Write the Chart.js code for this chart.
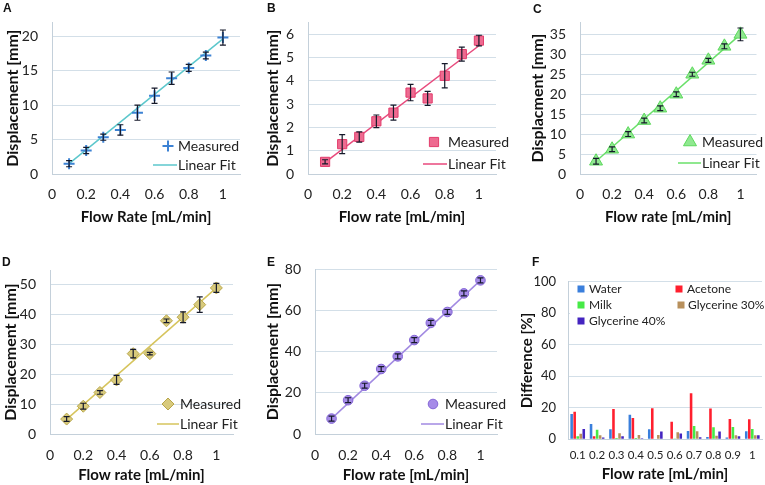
<!DOCTYPE html>
<html>
<head>
<meta charset="utf-8">
<script src="https://cdn.jsdelivr.net/npm/chart.js@4/dist/chart.umd.min.js"></script>
<style>
html,body{margin:0;padding:0;background:#fff;}
#wrap{position:relative;width:765px;height:485px;overflow:hidden;background:#fff;}
canvas{position:absolute;}
.lbl{position:absolute;font:bold 12px "Liberation Sans",Arial,sans-serif;color:#111;}
</style>
</head>
<body>
<div id="wrap">
  <canvas id="cA" width="250" height="230" style="left:0;top:0"></canvas>
  <canvas id="cB" width="255" height="230" style="left:255px;top:0"></canvas>
  <canvas id="cC" width="255" height="230" style="left:510px;top:0"></canvas>
  <canvas id="cD" width="250" height="245" style="left:0;top:240px"></canvas>
  <canvas id="cE" width="255" height="245" style="left:255px;top:240px"></canvas>
  <canvas id="cF" width="255" height="245" style="left:510px;top:240px"></canvas>
  <div class="lbl" style="left:3px;top:1px">A</div>
  <div class="lbl" style="left:267px;top:1px">B</div>
  <div class="lbl" style="left:533px;top:2px">C</div>
  <div class="lbl" style="left:2px;top:255px">D</div>
  <div class="lbl" style="left:267px;top:255px">E</div>
  <div class="lbl" style="left:532px;top:255px">F</div>
</div>
<script>
// ---------- DATA ----------
const flowRate = [0.1, 0.2, 0.3, 0.4, 0.5, 0.6, 0.7, 0.8, 0.9, 1.0];
const fitX = [0.1, 1.0];

const dispA = [1.5, 3.4, 5.35, 6.4, 8.9, 11.35, 13.9, 15.4, 17.2, 19.8];
const errA  = [0.45, 0.45, 0.45, 0.75, 1.1, 1.1, 0.9, 0.5, 0.5, 1.1];
const fitA  = [1.5, 19.6];

const dispB = [0.52, 1.28, 1.59, 2.26, 2.63, 3.49, 3.24, 4.21, 5.14, 5.72];
const errB  = [0.09, 0.41, 0.22, 0.27, 0.32, 0.35, 0.3, 0.52, 0.3, 0.23];
const fitB  = [0.5, 5.5];

const dispC = [3.2, 6.2, 10.0, 13.4, 16.5, 20.0, 25.0, 28.5, 32.0, 35.0];
const errC  = [0.7, 0.6, 0.6, 0.6, 0.6, 0.6, 0.5, 0.5, 0.6, 1.6];
const fitC  = [3.2, 35.0];

const dispD = [5.1, 9.4, 14.0, 18.2, 27.0, 27.0, 38.0, 39.2, 43.4, 49.0];
const errD  = [0.8, 1.0, 0.6, 1.5, 1.4, 0.4, 0.6, 1.8, 2.6, 1.5];
const fitD  = [5.0, 49.0];

const dispE = [7.6, 16.5, 23.5, 31.6, 37.7, 45.6, 53.9, 59.2, 68.2, 74.5];
const errE  = [1.2, 1.2, 1.2, 1.2, 1.2, 1.2, 1.2, 1.2, 1.2, 1.2];
const fitE  = [7.6, 74.5];

const flowLabels = ['0.1','0.2','0.3','0.4','0.5','0.6','0.7','0.8','0.9','1'];
const diffWater  = [16.0, 9.7, 6.3, 15.6, 6.3, 0.0, 5.3, 1.4, 1.2, 5.1];
const diffAcetone= [17.5, 2.0, 19.2, 13.5, 19.7, 11.2, 29.2, 19.5, 12.9, 12.7];
const diffMilk   = [2.0, 6.0, 0.8, 0.8, 0.4, 0.2, 8.5, 7.6, 7.8, 6.6];
const diffGly30  = [3.5, 2.5, 3.8, 2.7, 2.7, 4.4, 5.1, 2.3, 2.5, 2.5];
const diffGly40  = [6.5, 1.2, 1.9, 0.6, 5.0, 3.7, 1.3, 4.9, 1.9, 2.5];

// ---------- STYLE ----------
const FONT = 'Lato, "Open Sans", sans-serif';
const GRID = '#d3dfe8';
const AXIS = '#c4d0da';
const TXT = '#222';

const errPlugin = {
  id: 'errBars',
  afterDatasetsDraw(chart, args, opts) {
    if (!opts || !opts.errors) return;
    const ctx = chart.ctx, xs = chart.scales.x, ys = chart.scales.y;
    const ds = chart.data.datasets[0].data;
    ctx.save();
    ctx.strokeStyle = opts.color || '#222';
    ctx.lineWidth = 1.2;
    ds.forEach((p, i) => {
      const e = opts.errors[i];
      const px = xs.getPixelForValue(p.x);
      const y1 = ys.getPixelForValue(p.y + e), y2 = ys.getPixelForValue(p.y - e);
      const c = opts.cap || 3;
      ctx.beginPath();
      ctx.moveTo(px, y1); ctx.lineTo(px, y2);
      ctx.moveTo(px - c, y1); ctx.lineTo(px + c, y1);
      ctx.moveTo(px - c, y2); ctx.lineTo(px + c, y2);
      ctx.stroke();
    });
    ctx.restore();
  }
};

const legPlugin = {
  id: 'customLeg',
  afterDraw(chart, args, opts) {
    if (!opts || !opts.items) return;
    const ctx = chart.ctx;
    ctx.save();
    if (opts.box) {
      ctx.fillStyle = '#fff';
      ctx.fillRect(opts.box[0], opts.box[1], opts.box[2], opts.box[3]);
    }
    ctx.font = opts.font;
    ctx.fillStyle = TXT;
    ctx.textBaseline = 'middle';
    opts.items.forEach(it => {
      if (it.kind === 'point') {
        const ds = chart.data.datasets[it.ds];
        ctx.save();
        ctx.fillStyle = ds.pointBackgroundColor;
        ctx.strokeStyle = ds.pointBorderColor;
        ctx.lineWidth = ds.pointBorderWidth;
        Chart.helpers.drawPoint(ctx, {pointStyle: ds.pointStyle, radius: ds.pointRadius, rotation: 0, borderWidth: ds.pointBorderWidth}, it.mx, it.y);
        ctx.restore();
      } else if (it.kind === 'line') {
        const ds = chart.data.datasets[it.ds];
        ctx.save();
        ctx.strokeStyle = ds.borderColor; ctx.lineWidth = ds.borderWidth;
        ctx.beginPath(); ctx.moveTo(it.l1, it.y); ctx.lineTo(it.l2, it.y); ctx.stroke();
        ctx.restore();
      } else if (it.kind === 'box') {
        ctx.save();
        ctx.fillStyle = it.color;
        ctx.fillRect(it.mx - 3.5, it.y - 3.5, 7, 7);
        ctx.restore();
      }
      ctx.fillStyle = TXT;
      ctx.fillText(it.text, it.tx, it.y);
    });
    ctx.restore();
  }
};

function pts(ys) { return flowRate.map((x, i) => ({x: x, y: ys[i]})); }
function fitPts(ys) { return fitX.map((x, i) => ({x: x, y: ys[i]})); }

function scatterPanel(id, cfg) {
  const yW = cfg.yW, xH = cfg.xH;
  new Chart(document.getElementById(id), {
    type: 'scatter',
    data: {
      datasets: [
        {
          data: pts(cfg.data), pointStyle: cfg.style, pointRadius: cfg.r, pointHoverRadius: cfg.r,
          pointBackgroundColor: cfg.fill, pointBorderColor: cfg.edge, pointBorderWidth: cfg.bw,
          showLine: false
        },
        {
          data: fitPts(cfg.fit), showLine: true, pointRadius: 0, borderColor: cfg.line, borderWidth: 1.5,
          fill: false
        }
      ]
    },
    options: {
      responsive: false, animation: false, devicePixelRatio: 1,
      layout: {padding: {top: cfg.top, right: cfg.right, left: 0, bottom: 0}},
      plugins: {
        legend: {display: false}, tooltip: {enabled: false},
        errBars: {errors: cfg.err, color: '#15192a', cap: 3},
        customLeg: {font: '14px ' + FONT, items: cfg.leg}
      },
      scales: {
        x: {
          type: 'linear', min: 0, max: 1.1,
          ticks: {stepSize: 0.2, includeBounds: false, color: TXT, font: {family: FONT, size: 14}, padding: cfg.xtp,
            callback: v => String(+v.toFixed(1))},
          grid: {display: false, drawTicks: false},
          border: {display: true, color: AXIS, width: 1},
          title: {display: true, text: cfg.xTitle, color: '#111', font: {family: FONT, size: 15, weight: 'bold'}, padding: {top: 0, bottom: cfg.xtb}},
          afterFit: s => { s.height = xH; }
        },
        y: {
          type: 'linear', min: 0, max: cfg.ymax,
          ticks: {stepSize: cfg.ystep, includeBounds: false, color: TXT, font: {family: FONT, size: 14}, padding: cfg.ytp},
          grid: {color: GRID, drawTicks: false, lineWidth: 1},
          border: {display: true, color: AXIS, width: 1},
          title: {display: true, text: cfg.yTitle, color: '#111', font: {family: FONT, size: 16, weight: 'bold'}, padding: {top: cfg.ytt, bottom: 0}},
          afterFit: s => { s.width = yW; }
        }
      }
    },
    plugins: [errPlugin, legPlugin]
  });
}

scatterPanel('cA', {
  data: dispA, err: errA, fit: fitA, style: 'cross', r: 5.5, bw: 2, fill: '#3c82d4', edge: '#3c82d4', line: '#5cc7cc',
  ymax: 22, ystep: 5, yW: 52, xH: 56, top: 10, right: 10, xtp: 12, xtb: 4, ytp: 14, ytt: 3,
  xTitle: 'Flow Rate [mL/min]', yTitle: 'Displacement [mm]',
  leg: [{kind: 'point', ds: 0, mx: 168, y: 146, tx: 178, text: 'Measured'},
        {kind: 'line', ds: 1, l1: 153, l2: 177, y: 165, tx: 178, text: 'Linear Fit'}]
});
scatterPanel('cB', {
  data: dispB, err: errB, fit: fitB, style: 'rect', r: 6.5, bw: 1, fill: '#ee6a90', edge: '#e23d6c', line: '#e8497c',
  ymax: 6.5, ystep: 1, yW: 53, xH: 56, top: 10, right: 14, xtp: 12, xtb: 4, ytp: 14, ytt: 8,
  xTitle: 'Flow rate [mL/min]', yTitle: 'Displacement [mm]',
  leg: [{kind: 'point', ds: 0, mx: 179, y: 142, tx: 193, text: 'Measured'},
        {kind: 'line', ds: 1, l1: 168, l2: 192, y: 164, tx: 193, text: 'Linear Fit'}]
});
scatterPanel('cC', {
  data: dispC, err: errC, fit: fitC, style: 'triangle', r: 7.5, bw: 1, fill: '#90e890', edge: '#5cd85c', line: '#6ae06a',
  ymax: 38, ystep: 5, yW: 70, xH: 56, top: 10, right: 7, xtp: 12, xtb: 4, ytp: 14, ytt: 18,
  xTitle: 'Flow rate [mL/min]', yTitle: 'Displacment [mm]',
  leg: [{kind: 'point', ds: 0, mx: 180, y: 142, tx: 192, text: 'Measured'},
        {kind: 'line', ds: 1, l1: 168, l2: 191, y: 163, tx: 192, text: 'Linear Fit'}]
});
scatterPanel('cD', {
  data: dispD, err: errD, fit: fitD, style: 'rectRot', r: 6, bw: 1, fill: '#d8ca7c', edge: '#b8a64a', line: '#d6c45c',
  ymax: 55, ystep: 10, yW: 50, xH: 50.7, top: 30, right: 17, xtp: 13, xtb: 1, ytp: 14, ytt: 1,
  xTitle: 'Flow rate [mL/min]', yTitle: 'Displacement [mm]',
  leg: [{kind: 'point', ds: 0, mx: 168, y: 164, tx: 180, text: 'Measured'},
        {kind: 'line', ds: 1, l1: 157, l2: 179, y: 184, tx: 180, text: 'Linear Fit'}]
});
scatterPanel('cE', {
  data: dispE, err: errE, fit: fitE, style: 'circle', r: 4.8, bw: 1, fill: '#a68be8', edge: '#8466d6', line: '#a28ae2',
  ymax: 80, ystep: 20, yW: 60, xH: 50.7, top: 29, right: 13, xtp: 13, xtb: 1, ytp: 14, ytt: 8,
  xTitle: 'Flow rate [mL/min]', yTitle: 'Displacement [mm]',
  leg: [{kind: 'point', ds: 0, mx: 178, y: 164, tx: 190, text: 'Measured'},
        {kind: 'line', ds: 1, l1: 166, l2: 189, y: 184, tx: 190, text: 'Linear Fit'}]
});

// ---------- F: bar chart ----------
const barCols = ['#3a7fdc', '#ff1f2e', '#46ea46', '#b8905c', '#4424c0'];
new Chart(document.getElementById('cF'), {
  type: 'bar',
  data: {
    labels: flowLabels,
    datasets: [
      {label: 'Water', data: diffWater, backgroundColor: barCols[0]},
      {label: 'Acetone', data: diffAcetone, backgroundColor: barCols[1]},
      {label: 'Milk', data: diffMilk, backgroundColor: barCols[2]},
      {label: 'Glycerine 30%', data: diffGly30, backgroundColor: barCols[3]},
      {label: 'Glycerine 40%', data: diffGly40, backgroundColor: barCols[4]}
    ]
  },
  options: {
    responsive: false, animation: false, devicePixelRatio: 1,
    datasets: {bar: {categoryPercentage: 0.78, barPercentage: 0.85}},
    layout: {padding: {top: 41.7, right: 3, left: 0, bottom: 0}},
    plugins: {
      legend: {display: false}, tooltip: {enabled: false},
      customLeg: {font: '12px ' + FONT, box: [60, 43, 193, 45], items: [
        {kind: 'box', color: barCols[0], mx: 71, y: 49, tx: 79, text: 'Water'},
        {kind: 'box', color: barCols[1], mx: 169, y: 49, tx: 177, text: 'Acetone'},
        {kind: 'box', color: barCols[2], mx: 71, y: 65, tx: 79, text: 'Milk'},
        {kind: 'box', color: barCols[3], mx: 171, y: 65, tx: 178, text: 'Glycerine 30%'},
        {kind: 'box', color: barCols[4], mx: 71, y: 81, tx: 79, text: 'Glycerine 40%'}
      ]}
    },
    scales: {
      x: {
        ticks: {color: TXT, font: {family: FONT, size: 11.5}, padding: 9, maxRotation: 0, autoSkip: false},
        grid: {display: false, drawTicks: false},
        border: {display: true, color: AXIS},
        title: {display: true, text: 'Flow rate [mL/min]', color: '#111', font: {family: FONT, size: 15, weight: 'bold'}, padding: {top: 0, bottom: 2}},
        afterFit: s => { s.height = 45.7; }
      },
      y: {
        min: 0, max: 100,
        ticks: {stepSize: 10, color: TXT, font: {family: FONT, size: 13}, padding: 12},
        grid: {color: GRID, drawTicks: false},
        border: {display: true, color: AXIS},
        title: {display: true, text: 'Difference [%]', color: '#111', font: {family: FONT, size: 15, weight: 'bold'}, padding: {top: 8, bottom: 0}},
        afterFit: s => { s.width = 58; }
      }
    }
  },
  plugins: [legPlugin]
});
</script>
</body>
</html>
